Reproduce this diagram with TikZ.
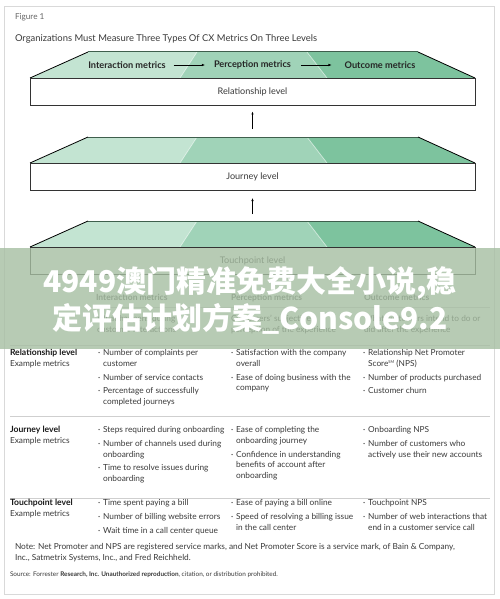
\documentclass[tikz,border=0pt]{standalone}
\usepackage{fontspec}
\setmainfont{Lato}
\newfontfamily\cjk{Noto Sans CJK SC}
\usetikzlibrary{arrows.meta,positioning}
\definecolor{segA}{HTML}{C3E4D2}
\definecolor{segB}{HTML}{A0D3B8}
\definecolor{segC}{HTML}{7DC39E}
\definecolor{rimline}{HTML}{3F5F4D}
\definecolor{rulegray}{HTML}{CFCFCF}
\definecolor{inkgray}{HTML}{3A3A3A}
\definecolor{banner}{HTML}{A6BEA2}

\begin{document}
\begin{tikzpicture}[x=1pt,y=-1pt,
    every node/.style={inner sep=0pt, outer sep=0pt},
    txt/.style={font=\fontsize{8.3}{10.8}\selectfont, text=inkgray, anchor=base west},
    head/.style={font=\fontsize{9.2}{10}\selectfont\bfseries, text=black!85},
    levelbox/.style={draw=black!80, line width=0.9pt, fill=white, minimum width=445pt,
        minimum height=27pt, font=\fontsize{9.1}{10}\selectfont, text=inkgray},
    rim/.style={draw=rimline, line width=1pt},
    side/.style={draw=black, line width=0.8pt},
    flow/.style={-{Latex[length=3.2pt,width=2.6pt]}, line width=0.6pt},
    uparrow/.style={-{Latex[length=3pt,width=2.4pt]}, line width=0.7pt},
    sep/.style={draw=rulegray, line width=0.8pt}]
    \useasboundingbox (0,0) rectangle (500,599);
    \fill[white] (0,0) rectangle (500,599);
    \draw[black!15, line width=0.8pt] (4,6) rectangle (494,594); % frame

    % Heading
    \node[txt, font=\fontsize{8.2}{9}\selectfont, text=black!60] (fig) at (15,20) {Figure 1};
    \node[txt, font=\fontsize{9.4}{10}\selectfont] (title) at (15,41.5)
        {Organizations Must Measure Three Types Of CX Metrics On Three Levels};

    % First slab: Relationship level
    \fill[segA] (30,78) -- (88,52) -- (197,52) -- (180,78) -- cycle;
    \fill[segB] (180,78) -- (197,52) -- (307,52) -- (327,78) -- cycle;
    \fill[segC] (327,78) -- (307,52) -- (418,52) -- (475,78) -- cycle;
    \draw[white, opacity=0.5, line width=0.8pt] (180,78) -- (197,52) (307,52) -- (327,78);
    \draw[rim] (88,52) -- (418,52);
    \draw[side] (30,78) -- (88,52) (418,52) -- (475,78);
    \node[levelbox] (rel) at (252.5,92) {Relationship level};

    % Metric types with arrows
    \node[head] (inter) at (127,65) {Interaction metrics};
    \node[head] (perc) at (252.5,65) {Perception metrics};
    \node[head] (outc) at (380,65) {Outcome metrics};
    \draw[flow, shorten <=8pt, shorten >=9pt] (inter) -- (perc);
    \draw[flow, shorten <=10pt, shorten >=13pt] (perc) -- (outc);

    % Second slab: Journey level
    \fill[segA] (30,163) -- (88,137) -- (197,137) -- (180,163) -- cycle;
    \fill[segB] (180,163) -- (197,137) -- (307,137) -- (327,163) -- cycle;
    \fill[segC] (327,163) -- (307,137) -- (418,137) -- (475,163) -- cycle;
    \draw[white, opacity=0.5, line width=0.8pt] (180,163) -- (197,137) (307,137) -- (327,163);
    \draw[rim] (88,137) -- (418,137);
    \draw[side] (30,163) -- (88,137) (418,137) -- (475,163);
    \node[levelbox] (jour) at (252.5,176.5) {Journey level};
    \coordinate (jtop) at (252.5,137);
    \draw[uparrow, shorten <=8pt, shorten >=6pt] (jtop) -- (rel.south);

    % Third slab: Touchpoint level
    \fill[segA] (30,247) -- (88,221) -- (197,221) -- (180,247) -- cycle;
    \fill[segB] (180,247) -- (197,221) -- (307,221) -- (327,247) -- cycle;
    \fill[segC] (327,247) -- (307,221) -- (418,221) -- (475,247) -- cycle;
    \draw[white, opacity=0.5, line width=0.8pt] (180,247) -- (197,221) (307,221) -- (327,247);
    \draw[rim] (88,221) -- (418,221);
    \draw[side] (30,247) -- (88,221) (418,221) -- (475,247);
    \node[levelbox] (touch) at (252.5,260.5) {Touchpoint level};
    \coordinate (ttop) at (252.5,221);
    \draw[uparrow, shorten <=7pt, shorten >=8pt] (ttop) -- (jour.south);

    % Table header
    \node[txt, font=\fontsize{8.5}{9}\selectfont\bfseries, text=black!65] (hA) at (96,300.5) {Interaction metrics};
    \node[txt, font=\fontsize{8.5}{9}\selectfont\bfseries, text=black!65] (hB) at (231,300.5) {Perception metrics};
    \node[txt, font=\fontsize{8.5}{9}\selectfont\bfseries, text=black!65] (hC) at (364,300.5) {Outcome metrics};
    \draw[sep] (96,307) -- (490,307);
    \node[txt] (dA) at (97,321.5) {\begin{tabular}[t]{@{}l@{}}What happens during\\customer interactions\end{tabular}};
    \node[txt] (dB) at (231,321.5) {\begin{tabular}[t]{@{}l@{}}Customers' subjective\\perception of the experience\end{tabular}};
    \node[txt] (dC) at (364,321.5) {\begin{tabular}[t]{@{}l@{}}What customers intend to do or\\did after the experience\end{tabular}};
    \draw[sep] (10,345) -- (490,345);

    % Relationship row
    \node[txt, font=\fontsize{8.6}{10.8}\selectfont\bfseries, text=black!90] (relrow) at (10,355.5) {Relationship level};
    \node[txt] (relsub) at (10,366.5) {Example metrics};
    \node[txt] (relA) at (98,355.5) {\begin{tabular}[t]{@{}l@{\hspace{3pt}}l@{}}
        ·&Number of complaints per\\&customer\\[3pt]
        ·&Number of service contacts\\[3pt]
        ·&Percentage of successfully\\&completed journeys\end{tabular}};
    \node[txt] (relB) at (231,355.5) {\begin{tabular}[t]{@{}l@{\hspace{3pt}}l@{}}
        ·&Satisfaction with the company\\&overall\\[3pt]
        ·&Ease of doing business with the\\&company\end{tabular}};
    \node[txt] (relC) at (363,355.5) {\begin{tabular}[t]{@{}l@{\hspace{3pt}}l@{}}
        ·&Relationship Net Promoter\\&Score\raisebox{2.8pt}{\fontsize{4}{4}\selectfont SM} (NPS)\\[3pt]
        ·&Number of products purchased\\[3pt]
        ·&Customer churn\end{tabular}};
    \draw[sep] (10,416) -- (490,416);

    % Journey row
    \node[txt, font=\fontsize{8.6}{10.8}\selectfont\bfseries, text=black!90] (jourrow) at (10,432.5) {Journey level};
    \node[txt] (joursub) at (10,443) {Example metrics};
    \node[txt] (jourA) at (98,432.5) {\begin{tabular}[t]{@{}l@{\hspace{3pt}}l@{}}
        ·&Steps required during onboarding\\[3pt]
        ·&Number of channels used during\\&onboarding\\[3pt]
        ·&Time to resolve issues during\\&onboarding\end{tabular}};
    \node[txt] (jourB) at (231,432.5) {\begin{tabular}[t]{@{}l@{\hspace{3pt}}l@{}}
        ·&Ease of completing the\\&onboarding journey\\[3pt]
        ·&Confidence in understanding\\&benefits of account after\\&onboarding\end{tabular}};
    \node[txt] (jourC) at (363,432.5) {\begin{tabular}[t]{@{}l@{\hspace{3pt}}l@{}}
        ·&Onboarding NPS\\[3pt]
        ·&Number of customers who\\&actively use their new accounts\end{tabular}};
    \draw[sep] (10,498) -- (490,498);

    % Touchpoint row
    \node[txt, font=\fontsize{8.6}{10.8}\selectfont\bfseries, text=black!90] (touchrow) at (10,505.5) {Touchpoint level};
    \node[txt] (touchsub) at (10,516) {Example metrics};
    \node[txt] (touchA) at (98,505.5) {\begin{tabular}[t]{@{}l@{\hspace{3pt}}l@{}}
        ·&Time spent paying a bill\\[3pt]
        ·&Number of billing website errors\\[3pt]
        ·&Wait time in a call center queue\end{tabular}};
    \node[txt] (touchB) at (231,505.5) {\begin{tabular}[t]{@{}l@{\hspace{3pt}}l@{}}
        ·&Ease of paying a bill online\\[3pt]
        ·&Speed of resolving a billing issue\\&in the call center\end{tabular}};
    \node[txt] (touchC) at (363,505.5) {\begin{tabular}[t]{@{}l@{\hspace{3pt}}l@{}}
        ·&Touchpoint NPS\\[3pt]
        ·&Number of web interactions that\\&end in a customer service call\end{tabular}};

    % Note and source
    \node[txt] (note) at (15,549.5) {\begin{tabular}[t]{@{}l@{}}Note: Net Promoter and NPS are registered service marks, and Net Promoter Score is a service mark, of Bain \& Company,\\Inc., Satmetrix Systems, Inc., and Fred Reichheld.\end{tabular}};
    \node[txt, font=\fontsize{6.4}{7}\selectfont] (source) at (10,576)
        {Source: Forrester \textbf{Research, Inc. Unauthorized reproduction}, citation, or distribution prohibited.};

    % Overlay banner
    \fill[banner, opacity=0.8] (0,248) rectangle (500,349);
    \node[font=\cjk\bfseries\fontsize{30}{30}\selectfont, text=white] (wmA) at (250,283) {4949澳门精准免费大全小说,稳};
    \node[font=\cjk\bfseries\fontsize{30}{30}\selectfont, text=white] (wmB) at (250,319) {定评估计划方案\_Console9.2};
\end{tikzpicture}
\end{document}
